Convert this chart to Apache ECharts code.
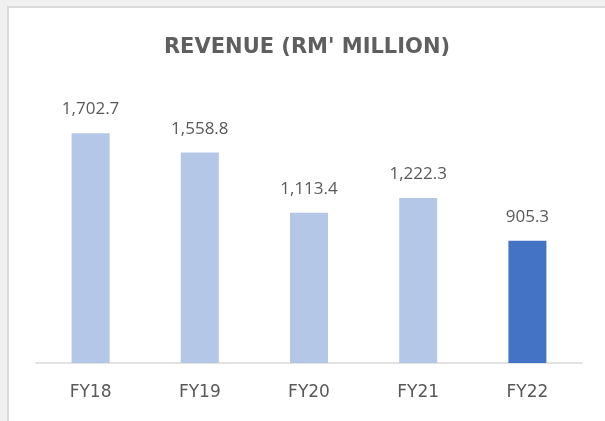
<!DOCTYPE html>
<html>
<head>
<meta charset="utf-8">
<script src="https://cdn.jsdelivr.net/npm/echarts@6/dist/echarts.min.js"></script>
<style>
  html, body { margin: 0; padding: 0; width: 605px; height: 421px; background: #f0f0f0; overflow: hidden; }
  #chart {
    position: absolute; left: 7px; top: 6px; right: 0; bottom: 0;
    background: #fff;
    border-left: 2px solid #dadada;
    border-top: 2px solid #dadada;
  }
</style>
</head>
<body>
<div id="chart"></div>
<script>
// 数据
const categories = ['FY18', 'FY19', 'FY20', 'FY21', 'FY22']
const revenue = [1702.7, 1558.8, 1113.4, 1222.3, 905.3]
const barColors = ['#b4c7e7', '#b4c7e7', '#b4c7e7', '#b4c7e7', '#4472c4']

const chart = echarts.init(document.getElementById('chart'))

const option = {
  animation: false,
  title: {
    text: "REVENUE (RM' MILLION)",
    left: 'center',
    top: 24,
    textStyle: {
      fontFamily: 'DejaVu Sans',
      fontWeight: 'bold',
      fontSize: 21,
      color: '#5f5f5f',
    },
  },
  grid: {
    left: 27,
    right: 23,
    top: 85,
    bottom: 58,
  },
  xAxis: {
    type: 'category',
    data: categories,
    axisTick: { show: false },
    axisLine: {
      lineStyle: { color: '#d9d9d9', width: 1.5 },
    },
    axisLabel: {
      margin: 21,
      fontFamily: 'DejaVu Sans',
      fontSize: 17,
      color: '#595959',
    },
  },
  yAxis: {
    type: 'value',
    min: 0,
    max: 2000,
    show: false,
    splitLine: { show: false },
  },
  series: [
    {
      type: 'bar',
      barWidth: 38,
      data: revenue.map((v, i) => ({ value: v, itemStyle: { color: barColors[i] } })),
      label: {
        show: true,
        position: 'top',
        distance: 15,
        fontFamily: 'Open Sans',
        fontSize: 17,
        color: '#595959',
        formatter: (p) => p.value.toLocaleString('en-US', { minimumFractionDigits: 1, maximumFractionDigits: 1 }),
      },
    },
  ],
}

chart.setOption(option)
</script>
</body>
</html>
